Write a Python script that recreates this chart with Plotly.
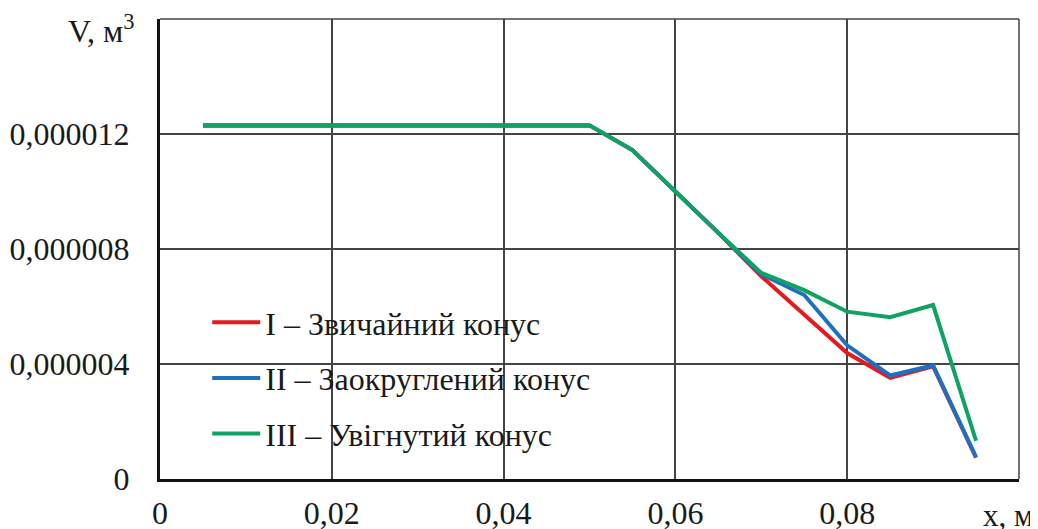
import plotly.graph_objects as go

x = [0.005, 0.01, 0.015, 0.02, 0.025, 0.03, 0.035, 0.04, 0.045, 0.05,
     0.055, 0.06, 0.065, 0.07, 0.075, 0.08, 0.085, 0.09, 0.095]

flat = [12.3e-6] * 10
v_regular = flat + [11.44e-6, 9.98e-6, 8.56e-6, 7.05e-6, 5.70e-6, 4.38e-6, 3.52e-6, 3.92e-6, 0.74e-6]
v_rounded = flat + [11.44e-6, 9.98e-6, 8.56e-6, 7.12e-6, 6.40e-6, 4.65e-6, 3.60e-6, 3.95e-6, 0.76e-6]
v_concave = flat + [11.44e-6, 9.98e-6, 8.56e-6, 7.17e-6, 6.57e-6, 5.82e-6, 5.63e-6, 6.05e-6, 1.33e-6]

names = ["I – Звичайний конус", "II – Заокруглений конус", "III – Увігнутий конус"]
colors = ["#e41a1c", "#1f6fc0", "#10a262"]

x_tickvals = [0, 0.02, 0.04, 0.06, 0.08]
x_ticktext = ["0", "0,02", "0,04", "0,06", "0,08"]
y_tickvals = [0, 4e-6, 8e-6, 12e-6]
y_ticktext = ["0", "0,000004", "0,000008", "0,000012"]
x_title = "x, м"
y_title = "V, м<sup>3</sup>"

fig = go.Figure()
for i, (vals, nm, col) in enumerate(zip([v_regular, v_rounded, v_concave], names, colors)):
    fig.add_trace(go.Scatter(x=x, y=vals, mode="lines", name=nm, legendgroup=str(i),
                             line=dict(color=col, width=4)))

font_family = "Liberation Serif, Times New Roman, serif"
txt_color = "#1a1a1a"

# thin top and right frame lines
fig.add_shape(type="line", xref="paper", yref="paper", x0=0, x1=1, y0=1, y1=1,
              line=dict(color="#444", width=1.5))
fig.add_shape(type="line", xref="paper", yref="paper", x0=1, x1=1, y0=0, y1=1,
              line=dict(color="#444", width=1.5))

fig.add_annotation(text=x_title, xref="paper", yref="paper", x=1.0, y=0,
                   xanchor="center", yanchor="middle", xshift=-11, yshift=-36, showarrow=False,
                   font=dict(size=31, color=txt_color, family=font_family))
fig.add_annotation(text=y_title, xref="paper", yref="paper", x=0, y=1,
                   xanchor="right", yanchor="middle", xshift=-24, yshift=-10, showarrow=False,
                   font=dict(size=32, color=txt_color, family=font_family))

# page body has an 8px margin; figure is sized/placed to fill the 1038x529 window
fig.update_layout(
    width=1030, height=521,
    margin=dict(l=152, r=19, t=11, b=50),
    paper_bgcolor="white", plot_bgcolor="white",
    font=dict(family=font_family, size=32, color=txt_color),
    showlegend=True,
    legend=dict(x=0.055, y=0.40, xanchor="left", yanchor="top",
                bgcolor="rgba(255,255,255,0)", font=dict(size=32, color=txt_color),
                tracegroupgap=11, itemwidth=48),
    xaxis=dict(range=[0, 0.1], tickvals=x_tickvals, ticktext=x_ticktext,
               showgrid=True, gridcolor="#444", gridwidth=1.5, automargin=False,
               showline=True, linecolor="#111", linewidth=3,
               ticks="", ticklabelstandoff=4, zeroline=False),
    yaxis=dict(range=[0, 16e-6], tickvals=y_tickvals, ticktext=y_ticktext,
               showgrid=True, gridcolor="#444", gridwidth=1.5, automargin=False,
               showline=True, linecolor="#111", linewidth=3,
               ticks="", ticklabelstandoff=21, zeroline=False),
)

fig.write_html("out.html")
